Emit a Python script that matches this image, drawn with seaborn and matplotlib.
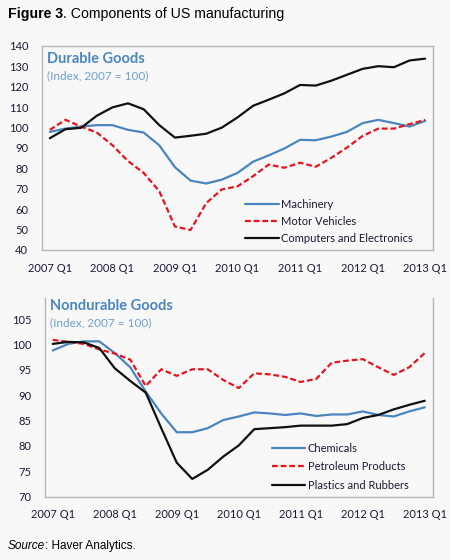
import matplotlib
matplotlib.use("Agg")
import matplotlib.pyplot as plt
from matplotlib.ticker import FixedLocator, NullFormatter
import pandas as pd
import seaborn as sns

# quarterly index values, 2007Q1 .. 2013Q1
quarters = [f"{y} Q{q}" for y in range(2007, 2014) for q in range(1, 5)][:25]
tick_labels = ["2007 Q1", "2008 Q1", "2009 Q1", "2010 Q1", "2011 Q1", "2012 Q1", "2013 Q1"]

machinery = [97.9, 99.5, 100.5, 101.2, 101.2, 98.9, 97.6, 91.3, 80.6, 74.0, 72.6, 74.5,
             77.8, 83.3, 86.4, 89.8, 94.0, 93.8, 95.6, 97.9, 102.2, 103.8, 102.2, 100.5, 103.3]
motor_vehicles = [98.9, 103.8, 100.5, 97.6, 91.4, 83.6, 77.8, 68.8, 51.5, 49.8, 63.0, 69.7,
                  71.2, 76.2, 81.9, 80.3, 82.8, 80.8, 85.2, 90.2, 95.9, 99.5, 99.5, 101.7, 103.8]
computers = [94.8, 99.2, 99.9, 105.8, 109.9, 111.9, 109.0, 101.2, 95.1, 96.0, 97.0, 100.0,
             105.0, 110.7, 113.7, 116.8, 120.9, 120.6, 123.0, 125.9, 128.8, 130.1, 129.6, 132.9, 133.8]

chemicals = [98.8, 100.1, 100.6, 100.6, 98.3, 95.5, 90.7, 86.4, 82.7, 82.7, 83.5, 85.1,
             85.8, 86.6, 86.4, 86.1, 86.4, 85.9, 86.2, 86.2, 86.8, 86.1, 85.8, 86.8, 87.6]
petroleum = [100.9, 100.5, 100.1, 99.0, 98.2, 97.0, 91.8, 95.1, 93.8, 95.1, 95.1, 93.0,
             91.4, 94.3, 94.1, 93.6, 92.6, 93.2, 96.4, 96.8, 97.1, 95.5, 94.0, 95.5, 98.3]
plastics = [100.1, 100.5, 100.4, 99.3, 95.3, 92.8, 90.5, 83.5, 76.7, 73.5, 75.3, 77.9,
            80.1, 83.3, 83.5, 83.7, 84.0, 84.0, 84.0, 84.3, 85.5, 86.1, 87.2, 88.1, 88.9]

BLUE = "#4a85bf"
RED = "#e8141c"
BLACK = "#111111"
BG = "#f8f8f8"
TXT = "#1a1a33"


def long_frame(series: dict) -> pd.DataFrame:
    rows = []
    for name, vals in series.items():
        for i, v in enumerate(vals):
            rows.append({"pos": i, "quarter": quarters[i], "series": name, "value": v})
    return pd.DataFrame(rows)


def draw_panel(ax, df, names, ylim, yticks, title, title_y, legend_anchor, labelspacing, boxed):
    palette = dict(zip(names, [BLUE, RED, BLACK]))
    sns.lineplot(data=df, x="pos", y="value", hue="series", hue_order=names,
                 palette=palette, linewidth=1.6, ax=ax, legend=False)
    ax.lines[1].set_linestyle((0, (2.6, 1.3)))
    ax.set_xlim(-0.5, 24.5)
    ax.set_ylim(*ylim)
    ax.set_yticks(yticks)
    ax.set_xticks(range(0, 25, 4))
    ax.set_xticklabels(tick_labels)
    ax.xaxis.set_minor_locator(FixedLocator([i + 0.5 for i in range(24)]))
    ax.xaxis.set_minor_formatter(NullFormatter())
    ax.tick_params(axis="x", which="major", length=0, pad=9, labelsize=8, labelcolor=TXT)
    ax.tick_params(axis="x", which="minor", direction="in", length=3, width=0.8, color="#999999")
    ax.tick_params(axis="y", length=0, pad=10, labelsize=8, labelcolor=TXT)
    ax.set_xlabel("")
    ax.set_ylabel("")
    ax.set_facecolor(BG)
    for side, sp in ax.spines.items():
        sp.set_color("#b8b8b8")
        sp.set_linewidth(1.0)
    if not boxed:
        ax.spines["top"].set_visible(False)
    ax.text(0.013, title_y[0], title, transform=ax.transAxes, fontsize=10.5,
            fontweight="bold", color="#4a86c0", va="center")
    ax.text(0.013, title_y[1], "(Index, 2007 = 100)", transform=ax.transAxes, fontsize=8.5,
            color="#6d9fd0", va="center")
    handles = ax.lines[:3]
    ax.legend(handles, names, loc="upper left", bbox_to_anchor=legend_anchor,
              frameon=False, fontsize=8, handlelength=3.0, handletextpad=0.25,
              labelspacing=labelspacing, borderpad=0, borderaxespad=0,
              labelcolor=TXT)


def mixed_text(fig, x, y, parts, size):
    # place text pieces next to each other, measuring each one
    renderer = fig.canvas.get_renderer()
    for content, kw in parts:
        t = fig.text(x, y, content, fontsize=size, family="Liberation Sans",
                     va="center", color="black", **kw)
        bb = t.get_window_extent(renderer=renderer)
        x += bb.width / fig.bbox.width


sns.set_style("white")
plt.rcParams["font.family"] = ["Lato", "DejaVu Sans"]

fig = plt.figure(figsize=(4.5, 5.6), dpi=100, facecolor=BG)

ax1 = fig.add_axes([42 / 450, 1 - 250 / 560, 391 / 450, 204 / 560])
top_df = long_frame({"Machinery": machinery, "Motor Vehicles": motor_vehicles,
                     "Computers and Electronics": computers})
draw_panel(ax1, top_df, ["Machinery", "Motor Vehicles", "Computers and Electronics"],
           (40, 140), range(40, 141, 10), "Durable Goods", (0.934, 0.852),
           (0.52, 0.252), 0.56, True)

ax2 = fig.add_axes([45 / 450, 1 - 496.7 / 560, 387.5 / 450, 199 / 560])
bot_df = long_frame({"Chemicals": chemicals, "Petroleum Products": petroleum,
                     "Plastics and Rubbers": plastics})
draw_panel(ax2, bot_df, ["Chemicals", "Petroleum Products", "Plastics and Rubbers"],
           (70, 109.2), range(70, 106, 5), "Nondurable Goods", (0.958, 0.872),
           (0.585, 0.272), 0.7, False)

mixed_text(fig, 8 / 450, 1 - 14 / 560,
           [("Figure 3", {"fontweight": "bold"}), (". Components of US manufacturing", {})], 10.2)
mixed_text(fig, 8 / 450, 1 - 546 / 560,
           [("Source", {"style": "italic"}), (": Haver Analytics.", {})], 8.5)

fig.savefig("out.png", dpi=100, facecolor=BG)
